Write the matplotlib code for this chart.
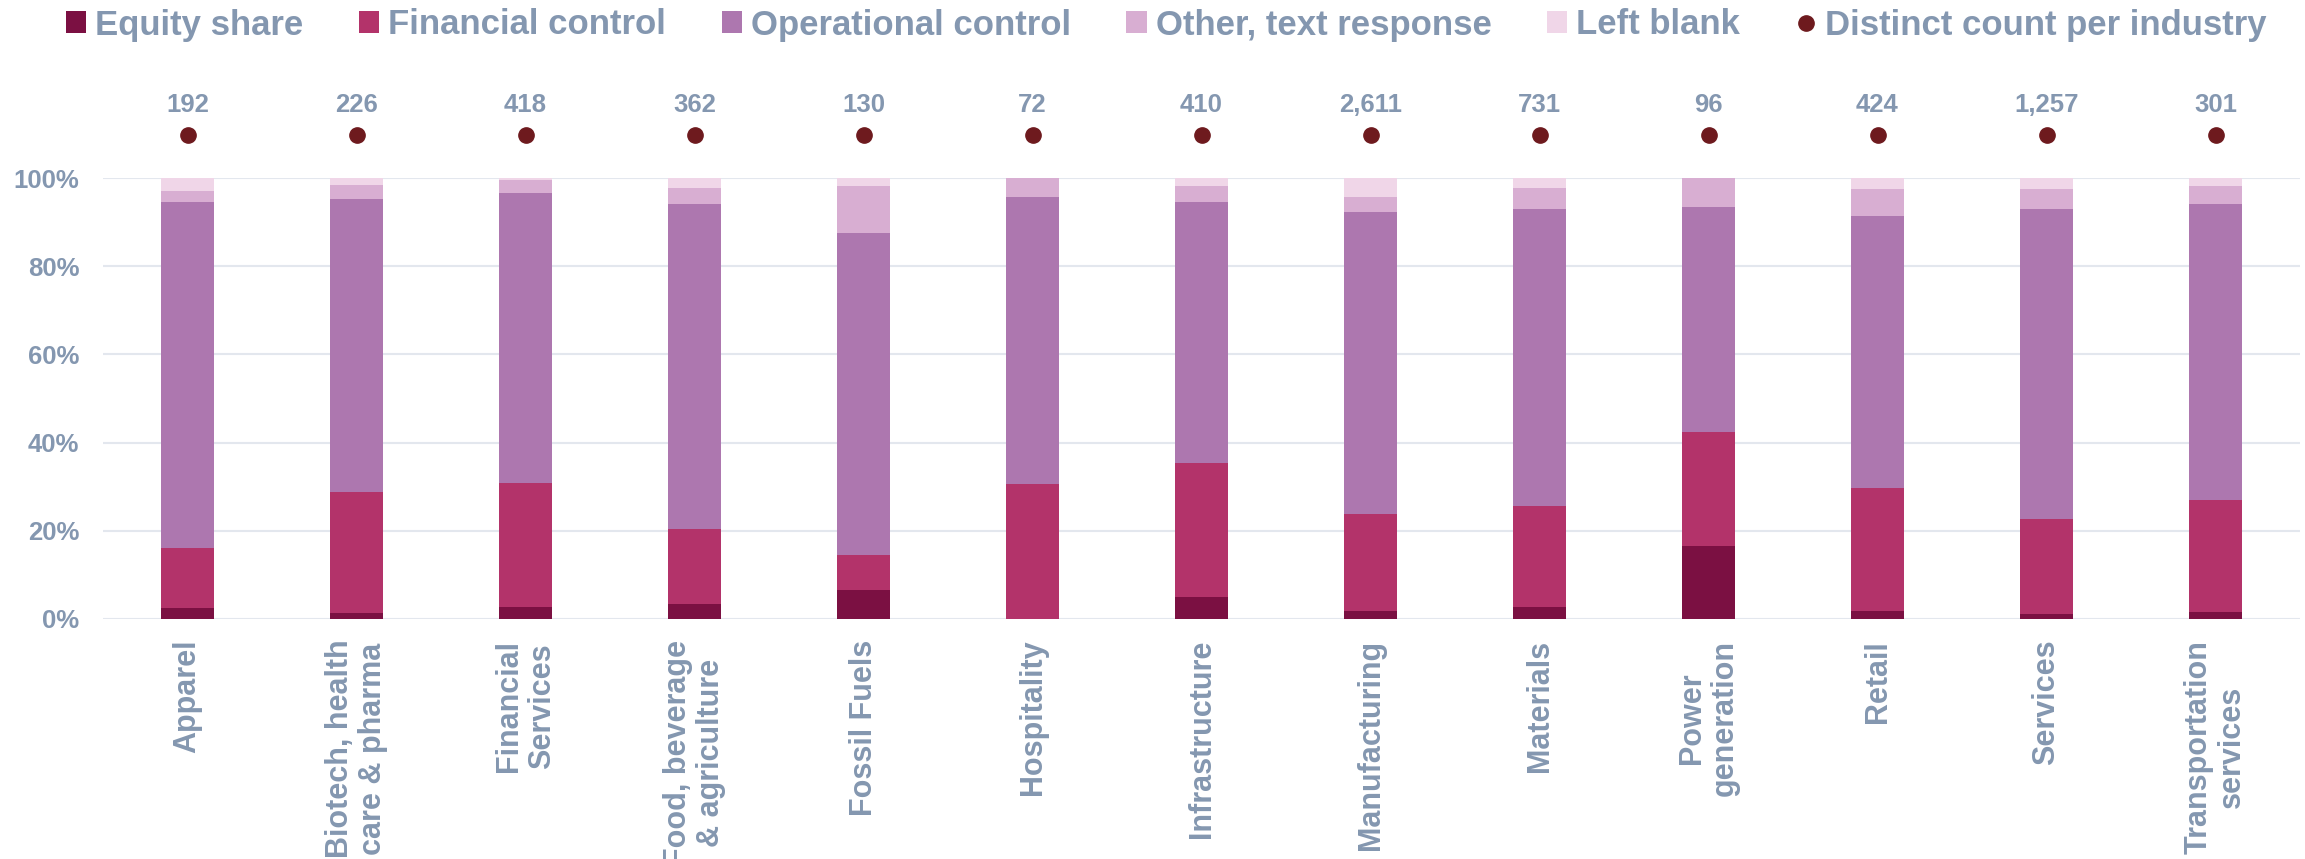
import matplotlib.pyplot as plt
from matplotlib.lines import Line2D
from matplotlib.patches import Patch
import numpy as np

# --------------------------
# data (percent of responses per industry)
# --------------------------
industries = ["Apparel", "Biotech, health\ncare & pharma", "Financial\nServices",
              "Food, beverage\n& agriculture", "Fossil Fuels", "Hospitality",
              "Infrastructure", "Manufacturing", "Materials", "Power\ngeneration",
              "Retail", "Services", "Transportation\nservices"]
equity_share = [2.4, 1.3, 2.8, 3.5, 6.6, 0.0, 5.0, 1.8, 2.8, 16.5, 1.8, 1.1, 1.5]
financial_control = [13.8, 27.5, 28.0, 16.9, 7.8, 30.6, 30.4, 22.0, 22.9, 25.9, 28.0, 21.6, 25.5]
operational_control = [78.4, 66.5, 65.7, 73.8, 73.2, 65.1, 59.2, 68.4, 67.2, 51.1, 61.6, 70.2, 67.0]
other_text = [2.5, 3.2, 3.0, 3.5, 10.5, 4.3, 3.5, 3.5, 4.9, 6.5, 6.0, 4.5, 4.2]
left_blank = [2.9, 1.5, 0.5, 2.3, 1.9, 0.0, 1.9, 4.3, 2.2, 0.0, 2.6, 2.6, 1.8]
distinct_count = [192, 226, 418, 362, 130, 72, 410, 2611, 731, 96, 424, 1257, 301]

series_names = ["Equity share", "Financial control", "Operational control",
                "Other, text response", "Left blank"]
colors = ["#7B1042", "#B3336A", "#AD77AF", "#D8AED2", "#F0D6E8"]
dot_color = "#6E1A1E"
text_color = "#8497B0"
grid_color = "#E3E7EE"

plt.rcParams["font.family"] = ["Liberation Sans", "DejaVu Sans"]
plt.rcParams["font.weight"] = "bold"

W, H = 2305, 859
fig = plt.figure(figsize=(W / 100, H / 100), dpi=100)
ax = fig.add_axes([103 / W, (H - 619) / H, (2300 - 103) / W, (619 - 178) / H])

x = np.arange(len(industries))
bottom = np.zeros(len(industries))
for vals, name, c in zip([equity_share, financial_control, operational_control,
                          other_text, left_blank], series_names, colors):
    v = np.array(vals) / 100
    ax.bar(x, v, 0.31, bottom=bottom, color=c, label=name, zorder=3)
    bottom += v

# distinct count dots above the bars
dot_level = 1.0975
ax.plot(x, [dot_level] * len(x), "o", color=dot_color, ms=11, clip_on=False, zorder=4)
for xi, n in zip(x, distinct_count):
    ax.annotate(f"{n:,}", (xi, dot_level), xytext=(0, 16.5), textcoords="offset points",
                ha="center", va="baseline", fontsize=18.5, fontweight="bold",
                color=text_color, annotation_clip=False)

ax.set_xlim(-0.5, len(x) - 0.5)
ax.set_ylim(0, 1)
ax.set_yticks(np.arange(0, 1.01, 0.2))
ax.set_yticklabels([f"{int(round(t * 100))}%" for t in np.arange(0, 1.01, 0.2)])
ax.yaxis.grid(True, color=grid_color, lw=1.5, zorder=0)
ax.set_axisbelow(True)
for s in ax.spines.values():
    s.set_visible(False)
ax.tick_params(axis="y", length=0, pad=17, labelsize=18.5, labelcolor=text_color)
ax.tick_params(axis="x", length=0, pad=15, labelsize=22, labelcolor=text_color)
ax.set_xticks(x)
ax.set_xticklabels(industries, rotation=90, ha="center", va="top",
                   multialignment="center", linespacing=1.15)

# legend across the top
handles = [Patch(facecolor=c, edgecolor="none") for c in colors]
handles.append(Line2D([], [], marker="o", ls="none", color=dot_color, ms=11))
labels = series_names + ["Distinct count per industry"]
leg = fig.legend(handles, labels, loc="center left", bbox_to_anchor=(66 / W, 1 - 25 / H),
                 ncol=6, frameon=False, fontsize=25, handlelength=0.58, handleheight=0.58,
                 handletextpad=0.26, columnspacing=1.6, borderpad=0, borderaxespad=0)
for t in leg.get_texts():
    t.set_color(text_color)
    t.set_fontweight("bold")

plt.savefig("out.png", dpi=100)
plt.close()
